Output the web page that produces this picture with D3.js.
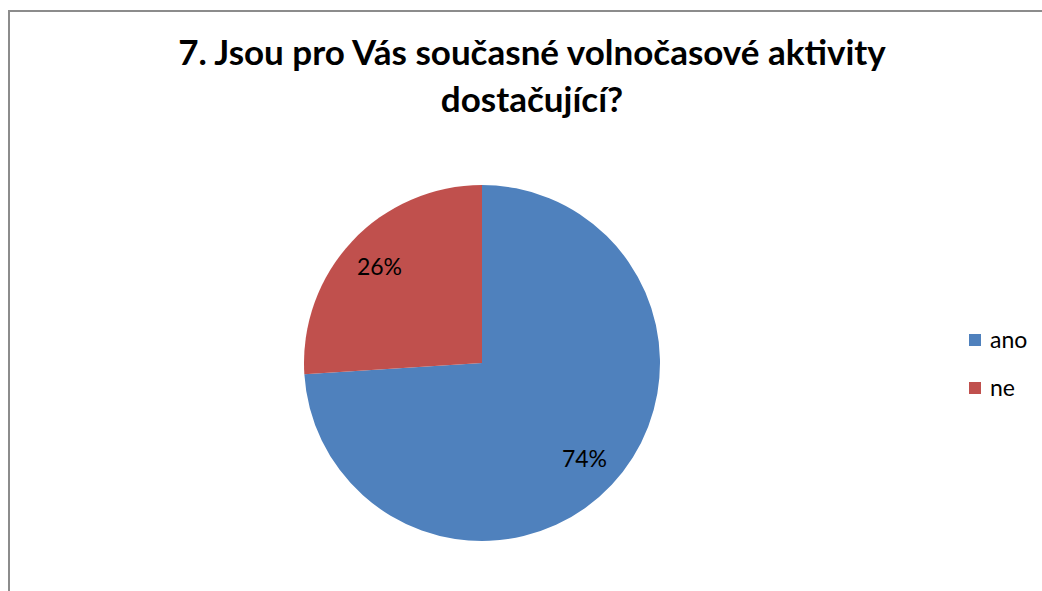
<!DOCTYPE html>
<html>
<head>
<meta charset="utf-8">
<script src="https://cdn.jsdelivr.net/npm/d3@7"></script>
<style>
  body { margin: 0; background: #fff; }
  svg { display: block; }
</style>
</head>
<body>
<div id="chart"></div>
<script>
// chart data
const categories = ['ano', 'ne']
const values = [74, 26]
const colors = ['#4f81bd', '#c0504d']
const titleLines = ['7. Jsou pro Vás současné volnočasové aktivity', 'dostačující?']

const width = 1042
const height = 591
const font = 'Lato, Carlito, Calibri, sans-serif'

const svg = d3.select('#chart').append('svg')
  .attr('width', width)
  .attr('height', height)

// frame (right and bottom sides cut off in the original)
svg.append('path')
  .attr('d', `M9,${height} L9,11 L${width},11`)
  .attr('fill', 'none')
  .attr('stroke', '#8c8c8c')
  .attr('stroke-width', 2)

// title
svg.append('g').selectAll('text')
  .data(titleLines)
  .join('text')
  .attr('x', 532)
  .attr('y', (d, i) => 65 + i * 47)
  .attr('text-anchor', 'middle')
  .style('font', `bold 35px ${font}`)
  .attr('fill', '#000')
  .text(d => d)

// pie
const cx = 482
const cy = 363
const radius = 178
const pie = d3.pie().sort(null).value(d => d)
const arcs = pie(values)
const arc = d3.arc().innerRadius(0).outerRadius(radius)
const labelArc = d3.arc().innerRadius(radius * 0.79).outerRadius(radius * 0.79)

const g = svg.append('g').attr('transform', `translate(${cx},${cy})`)
g.selectAll('path')
  .data(arcs)
  .join('path')
  .attr('d', arc)
  .attr('fill', (d, i) => colors[i])

g.selectAll('text')
  .data(arcs)
  .join('text')
  .attr('transform', d => `translate(${labelArc.centroid(d)})`)
  .attr('text-anchor', 'middle')
  .attr('dy', '0.35em')
  .style('font', `23px ${font}`)
  .attr('fill', '#000')
  .text(d => d.data + '%')

// legend
const legend = svg.append('g').selectAll('g')
  .data(categories)
  .join('g')
  .attr('transform', (d, i) => `translate(969,${340 + i * 48})`)
legend.append('rect')
  .attr('x', 0)
  .attr('y', -6)
  .attr('width', 12)
  .attr('height', 12)
  .attr('fill', (d, i) => colors[i])
legend.append('text')
  .attr('x', 21)
  .attr('y', 0)
  .attr('dy', '0.35em')
  .style('font', `23px ${font}`)
  .attr('fill', '#000')
  .text(d => d)
</script>
</body>
</html>
